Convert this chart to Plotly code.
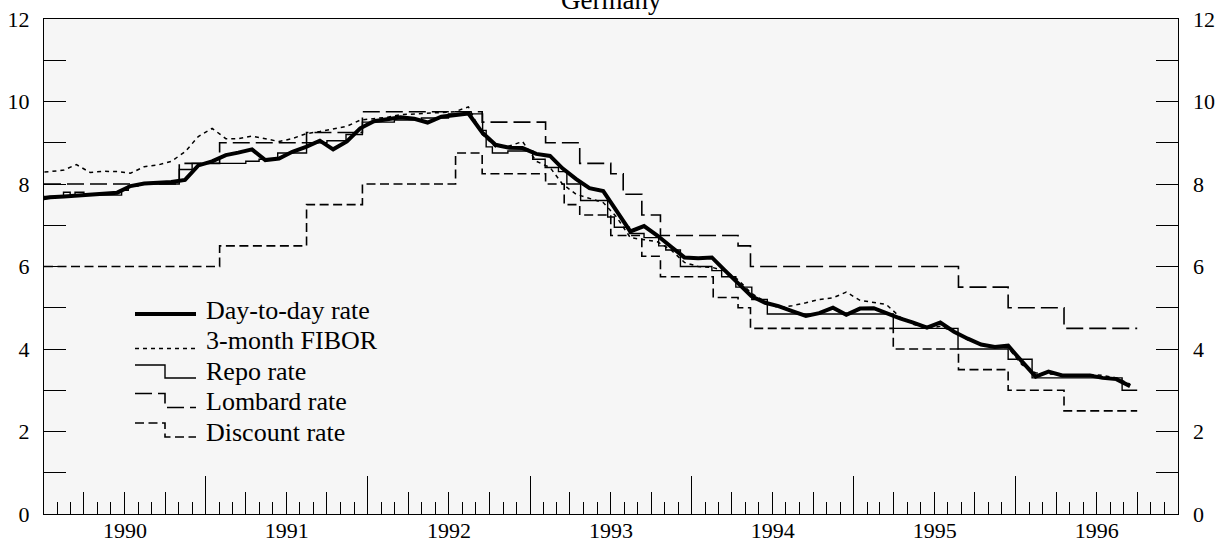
import pandas as pd
import plotly.graph_objects as go

# Monthly averages, December 1989 to September 1996 (plotted mid-month)
MONTHS = pd.period_range("1989-12", "1996-09", freq="M")

DAY_TO_DAY = [
    7.62,
    7.68, 7.70, 7.72, 7.74, 7.75, 7.79, 7.95, 8.01, 8.03, 8.05, 8.10, 8.45,
    8.55, 8.70, 8.76, 8.84, 8.58, 8.62, 8.78, 8.90, 9.05, 8.84, 9.03, 9.35,
    9.52, 9.57, 9.62, 9.58, 9.49, 9.63, 9.67, 9.71, 9.25, 8.95, 8.88, 8.87,
    8.73, 8.68, 8.38, 8.12, 7.90, 7.83, 7.35, 6.85, 6.98, 6.75, 6.48, 6.22,
    6.20, 6.22, 5.92, 5.60, 5.28, 5.12, 5.04, 4.92, 4.80, 4.87, 5.00, 4.83,
    4.98, 4.99, 4.86, 4.74, 4.64, 4.52, 4.64, 4.42, 4.25, 4.11, 4.05, 4.08,
    3.70, 3.33, 3.45, 3.36, 3.36, 3.36, 3.30, 3.27, 3.10,
]

FIBOR_3M = [
    8.28,
    8.30, 8.34, 8.47, 8.28, 8.31, 8.30, 8.26, 8.42, 8.46, 8.55, 8.78, 9.15,
    9.35, 9.10, 9.10, 9.16, 9.10, 9.03, 9.10, 9.22, 9.27, 9.33, 9.40, 9.55,
    9.58, 9.62, 9.68, 9.70, 9.72, 9.73, 9.75, 9.87, 9.20, 8.90, 8.92, 9.03,
    8.55, 8.40, 8.00, 7.75, 7.65, 7.55, 7.20, 6.70, 6.65, 6.60, 6.40, 6.10,
    6.00, 5.98, 5.90, 5.68, 5.35, 5.15, 5.00, 5.05, 5.12, 5.20, 5.24, 5.38,
    5.18, 5.13, 5.08, 4.78, 4.60, 4.50, 4.55, 4.42, 4.22, 4.12, 4.05, 4.03,
    3.62, 3.42, 3.40, 3.36, 3.36, 3.38, 3.36, 3.30, 3.15,
]

# Official rates: date of each change and the new level (last entry closes the line)
REPO_DATES = [
    "1990-01-01", "1990-02-14", "1990-03-01", "1990-03-12", "1990-04-01",
    "1990-06-25", "1990-07-10", "1990-08-01", "1990-11-02", "1990-12-01",
    "1991-04-01", "1991-05-01", "1991-06-12", "1991-08-16", "1991-10-01",
    "1991-11-13", "1991-12-20", "1992-03-01", "1992-05-01", "1992-07-01",
    "1992-09-16", "1992-09-24", "1992-10-08", "1992-11-12", "1993-01-07",
    "1993-02-04", "1993-03-06", "1993-03-25", "1993-04-25", "1993-06-25",
    "1993-07-10", "1993-08-13", "1993-09-15", "1993-10-18", "1993-11-03",
    "1993-12-06", "1994-02-15", "1994-03-09", "1994-04-10", "1994-05-16",
    "1994-06-20", "1995-03-31", "1995-08-24", "1995-12-15", "1996-02-07",
    "1996-08-28", "1996-10-01",
]
REPO = [
    7.70, 7.80, 7.72, 7.80, 7.73,
    7.85, 7.95, 8.00, 8.35, 8.50,
    8.55, 8.60, 8.75, 9.00, 9.05,
    9.20, 9.50, 9.55, 9.60, 9.70,
    9.30, 8.90, 8.75, 8.80, 8.60,
    8.40, 8.30, 8.00, 7.60, 7.20,
    6.95, 6.80, 6.70, 6.50, 6.40,
    6.00, 5.90, 5.75, 5.50, 5.20,
    4.85, 4.50, 4.00, 3.75, 3.30,
    3.00, 3.00,
]

LOMBARD_DATES = [
    "1990-01-01", "1990-11-02", "1991-02-01", "1991-08-16", "1991-12-20",
    "1992-09-15", "1993-02-05", "1993-04-23", "1993-07-02", "1993-07-30",
    "1993-09-10", "1993-10-22", "1994-04-15", "1994-05-13", "1995-08-25",
    "1995-12-15", "1996-04-19", "1996-10-01",
]
LOMBARD = [
    8.00, 8.50, 9.00, 9.25, 9.75,
    9.50, 9.00, 8.50, 8.25, 7.75,
    7.25, 6.75, 6.50, 6.00, 5.50,
    5.00, 4.50, 4.50,
]

DISCOUNT_DATES = [
    "1990-01-01", "1991-02-01", "1991-08-16", "1991-12-20", "1992-07-17",
    "1992-09-15", "1993-02-05", "1993-03-19", "1993-04-23", "1993-07-02",
    "1993-09-10", "1993-10-22", "1994-02-18", "1994-04-15", "1994-05-13",
    "1995-03-31", "1995-08-25", "1995-12-15", "1996-04-19", "1996-10-01",
]
DISCOUNT = [
    6.00, 6.50, 7.50, 8.00, 8.75,
    8.25, 8.00, 7.50, 7.25, 6.75,
    6.25, 5.75, 5.25, 5.00, 4.50,
    4.00, 3.50, 3.00, 2.50, 2.50,
]

Y_TICKS = list(range(0, 13))
Y_LABELS = [str(v) if v % 2 == 0 else "" for v in Y_TICKS]

SERIES_NAMES = ["Day-to-day rate", "3-month FIBOR", "Repo rate", "Lombard rate", "Discount rate"]

FONT = "Liberation Serif"
INK = "black"

month_mid = [p.start_time + pd.Timedelta(days=14) for p in MONTHS]

fig = go.Figure()

fig.add_trace(go.Scatter(x=pd.to_datetime(DISCOUNT_DATES), y=DISCOUNT, mode="lines",
                         line=dict(shape="hv", color=INK, width=1.6, dash="9px,4.5px"),
                         name=SERIES_NAMES[4], showlegend=False))
fig.add_trace(go.Scatter(x=pd.to_datetime(LOMBARD_DATES), y=LOMBARD, mode="lines",
                         line=dict(shape="hv", color=INK, width=1.6, dash="17px,6px"),
                         name=SERIES_NAMES[3], showlegend=False))
fig.add_trace(go.Scatter(x=pd.to_datetime(REPO_DATES), y=REPO, mode="lines",
                         line=dict(shape="hv", color=INK, width=1.4),
                         name=SERIES_NAMES[2], showlegend=False))
fig.add_trace(go.Scatter(x=month_mid, y=FIBOR_3M, mode="lines",
                         line=dict(color=INK, width=1.5, dash="4px,4px"),
                         name=SERIES_NAMES[1], showlegend=False))
fig.add_trace(go.Scatter(x=month_mid, y=DAY_TO_DAY, mode="lines",
                         line=dict(color=INK, width=4),
                         name=SERIES_NAMES[0], showlegend=False))

# helper traces so the overlay axes (quarter ticks, year labels, right-hand labels) get drawn
fig.add_trace(go.Scatter(x=[None], y=[None], xaxis="x2", yaxis="y", showlegend=False, hoverinfo="skip"))
fig.add_trace(go.Scatter(x=[None], y=[None], xaxis="x3", yaxis="y", showlegend=False, hoverinfo="skip"))
fig.add_trace(go.Scatter(x=[None], y=[None], xaxis="x", yaxis="y2", showlegend=False, hoverinfo="skip"))

X_RANGE = ["1990-01-01", "1997-01-01"]
tickfont = dict(family=FONT, size=22, color=INK)

fig.update_layout(
    width=1226, height=544,
    margin=dict(l=44, r=48, t=19, b=30, autoexpand=False),
    paper_bgcolor="white",
    plot_bgcolor="#f6f6f6",
    showlegend=False,
    font=dict(family=FONT, color=INK),
    # yearly ticks + monthly minor ticks
    xaxis=dict(
        type="date", range=X_RANGE, tick0="1990-01-01", dtick="M12",
        showticklabels=False, automargin=False,
        ticks="inside", ticklen=38, tickwidth=1.3, tickcolor=INK,
        minor=dict(dtick="M1", tick0="1990-01-01", ticks="inside", ticklen=12,
                   tickwidth=1.3, tickcolor=INK, showgrid=False),
        showgrid=False, zeroline=False,
        showline=True, linecolor=INK, linewidth=1.3, mirror=True,
    ),
    # quarterly ticks
    xaxis2=dict(
        type="date", range=X_RANGE, tick0="1990-01-01", dtick="M3",
        overlaying="x", anchor="y", side="bottom", automargin=False,
        ticks="inside", ticklen=22, tickwidth=1.3, tickcolor=INK,
        showticklabels=False, showgrid=False, zeroline=False, showline=False,
    ),
    # year labels centred on each year
    xaxis3=dict(
        type="date", range=X_RANGE, tick0="1990-01-01", dtick="M12",
        tickformat="%Y", ticklabelmode="period",
        overlaying="x", anchor="free", position=0, side="bottom", automargin=False,
        ticks="", showgrid=False, zeroline=False, showline=False,
        tickfont=tickfont, ticklabelstandoff=1,
    ),
    yaxis=dict(
        range=[0, 12], tickvals=Y_TICKS, ticktext=Y_LABELS, automargin=False,
        ticks="inside", ticklen=22, tickwidth=1.3, tickcolor=INK,
        showgrid=False, zeroline=False,
        showline=True, linecolor=INK, linewidth=1.3, mirror="ticks",
        tickfont=tickfont, ticklabelstandoff=9,
    ),
    yaxis2=dict(
        range=[0, 12], tickvals=Y_TICKS, ticktext=Y_LABELS, automargin=False,
        overlaying="y", side="right", anchor="x",
        ticks="", showgrid=False, zeroline=False, showline=False,
        tickfont=tickfont, ticklabelstandoff=14,
    ),
)

# Title
fig.add_annotation(text="Germany", xref="paper", yref="paper", x=0.5, y=1.004,
                   xanchor="center", yanchor="bottom", showarrow=False,
                   font=dict(family=FONT, size=27, color=INK))

# Legend drawn by hand so that the step-line keys can be shown
PLOT_L, PLOT_T, PLOT_W, PLOT_H = 44, 19, 1134, 495


def px(x):
    return (x - PLOT_L) / PLOT_W


def py(y):
    return (PLOT_T + PLOT_H - y) / PLOT_H


KEY_X0, KEY_XM, KEY_X1, TEXT_X = 135, 165, 196, 204
ROW_Y = [310, 340.5, 371, 401.5, 432]

for name, yc in zip(SERIES_NAMES, ROW_Y):
    fig.add_annotation(text=name, xref="paper", yref="paper", x=px(TEXT_X), y=py(yc),
                       xanchor="left", yanchor="middle", showarrow=False,
                       font=dict(family=FONT, size=26, color=INK))

# key: day-to-day
fig.add_shape(type="line", xref="paper", yref="paper",
              x0=px(KEY_X0), x1=px(KEY_X1), y0=py(ROW_Y[0] + 4), y1=py(ROW_Y[0] + 4),
              line=dict(color=INK, width=4))
# key: FIBOR
fig.add_shape(type="line", xref="paper", yref="paper",
              x0=px(KEY_X0), x1=px(KEY_X1), y0=py(ROW_Y[1] + 8), y1=py(ROW_Y[1] + 8),
              line=dict(color=INK, width=1.5, dash="4px,4px"))
# key: repo (solid step)
yh, yl = ROW_Y[2] - 6, ROW_Y[2] + 7
fig.add_shape(type="path", xref="paper", yref="paper",
              path=f"M {px(KEY_X0)} {py(yh)} L {px(KEY_XM)} {py(yh)} L {px(KEY_XM)} {py(yl)} L {px(KEY_X1)} {py(yl)}",
              line=dict(color=INK, width=1.4))
# key: lombard (long dash step)
yh, yl = ROW_Y[3] - 8, ROW_Y[3] + 6
fig.add_shape(type="path", xref="paper", yref="paper",
              path=f"M {px(KEY_X0)} {py(yh)} L {px(KEY_XM)} {py(yh)} L {px(KEY_XM)} {py(yl)} L {px(KEY_X1)} {py(yl)}",
              line=dict(color=INK, width=1.6, dash="17px,6px"))
# key: discount (medium dash step)
yh, yl = ROW_Y[4] - 9, ROW_Y[4] + 5
fig.add_shape(type="path", xref="paper", yref="paper",
              path=f"M {px(KEY_X0)} {py(yh)} L {px(KEY_XM)} {py(yh)} L {px(KEY_XM)} {py(yl)} L {px(KEY_X1)} {py(yl)}",
              line=dict(color=INK, width=1.6, dash="9px,4.5px"))

fig.write_html("out.html")
